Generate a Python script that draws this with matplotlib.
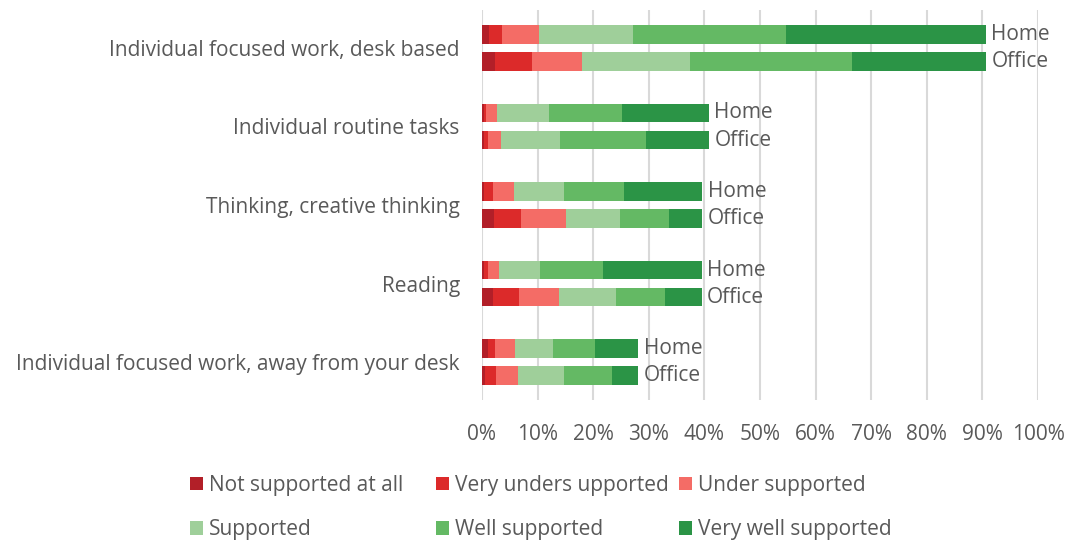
import matplotlib.pyplot as plt
import numpy as np

categories = [
    "Individual focused work, desk based",
    "Individual routine tasks",
    "Thinking, creative thinking",
    "Reading",
    "Individual focused work, away from your desk",
]
levels = [
    "Not supported at all",
    "Very unders upported",
    "Under supported",
    "Supported",
    "Well supported",
    "Very well supported",
]
colors = ["#b21f28", "#dc2a2a", "#f46c66", "#9fcf9a", "#64b964", "#2b9446"]

# share of respondents (%) per level, one value per category
home_not = [1.3, 0.3, 0.4, 0.3, 1.0]
home_very_under = [2.3, 0.5, 1.5, 0.7, 1.4]
home_under = [6.6, 1.9, 3.9, 2.1, 3.6]
home_supported = [16.9, 9.3, 8.9, 7.4, 6.8]
home_well = [27.5, 13.2, 10.9, 11.2, 7.5]
home_very_well = [36.0, 15.6, 14.0, 17.8, 7.8]

office_not = [2.4, 0.3, 2.2, 2.0, 0.6]
office_very_under = [6.6, 0.8, 4.8, 4.7, 2.0]
office_under = [9.0, 2.4, 8.1, 7.2, 3.9]
office_supported = [19.4, 10.6, 9.8, 10.2, 8.2]
office_well = [29.2, 15.4, 8.7, 8.8, 8.6]
office_very_well = [24.0, 11.3, 6.0, 6.6, 4.8]

home = [home_not, home_very_under, home_under, home_supported, home_well, home_very_well]
office = [office_not, office_very_under, office_under, office_supported, office_well, office_very_well]

text_color = "#595959"
font = "Open Sans"
fs = 15

fig = plt.figure(figsize=(10.69, 5.43), dpi=100)
ax = fig.add_axes([482 / 1069, 143 / 543, 556 / 1069, 390 / 543])

y = np.arange(len(categories))
off = 0.172
h = 0.235

handles = []
for series, ypos, tag in [(home, y - off, "Home"), (office, y + off, "Office")]:
    left = np.zeros(len(categories))
    for vals, col, lab in zip(series, colors, levels):
        b = ax.barh(ypos, vals, height=h, left=left, color=col, edgecolor="none", label=lab)
        if tag == "Home":
            handles.append(b)
        left = left + np.array(vals)
    for yy, tot in zip(ypos, left):
        ax.annotate(tag, (tot, yy), xytext=(4, 0), textcoords="offset points",
                    va="center", ha="left", fontsize=fs, color=text_color, family=font)

ax.set_xlim(0, 100)
ax.set_ylim(len(categories) - 1 + 0.484, -0.484)
ax.set_xticks(np.arange(0, 101, 10))
ax.set_xticklabels([f"{v}%" for v in range(0, 101, 10)], fontsize=fs, color=text_color, family=font)
ax.set_yticks(y)
ax.set_yticklabels(categories, fontsize=fs, color=text_color, family=font)
ax.tick_params(axis="both", length=0)
ax.tick_params(axis="x", pad=17)
ax.tick_params(axis="y", pad=16)
ax.grid(axis="x", color="#d9d9d9", linewidth=1.5)
ax.set_axisbelow(True)
for s in ax.spines.values():
    s.set_visible(False)

# legend as three columns, placed like the original
col_x = [190, 436, 679]
for i, cx in enumerate(col_x):
    leg = fig.legend([handles[i], handles[i + 3]], [levels[i], levels[i + 3]],
                     loc="upper left", bbox_to_anchor=(cx / 1069, 1 - 475 / 543),
                     frameon=False, handlelength=0.6, handleheight=0.6, handletextpad=0.3,
                     labelspacing=1.12, borderaxespad=0, borderpad=0,
                     prop={"family": font, "size": fs})
    for t in leg.get_texts():
        t.set_color(text_color)

fig.savefig("out.png", dpi=100)
